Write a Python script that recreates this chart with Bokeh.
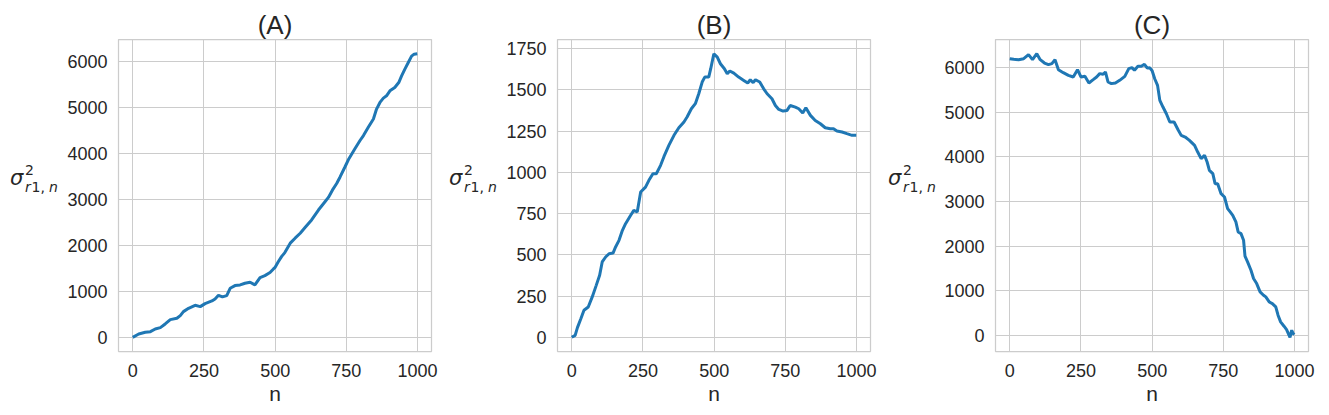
from bokeh.plotting import figure
from bokeh.layouts import row
from bokeh.models import Range1d, FixedTicker, Div
from bokeh.embed import file_html
from bokeh.resources import INLINE

# ---------------- data ----------------
titles = ["(A)", "(B)", "(C)"]

n_a = [0, 21, 44, 62, 79, 97, 114, 132, 155, 167, 178, 196, 219, 237, 254, 278, 289,
       301, 315, 330, 342, 359, 377, 394, 412, 429, 447, 464, 482, 494, 500, 511, 523,
       534, 553, 570, 588, 605, 628, 652, 675, 687, 701, 716, 728, 745, 759, 780, 798,
       810, 827, 845, 856, 868, 880, 891, 903, 920, 934, 944, 955, 967, 979, 988, 999]
s_a = [0, 72, 109, 123, 181, 210, 290, 384, 413, 471, 558, 630, 696, 667, 732, 790, 833,
       913, 877, 906, 1065, 1123, 1138, 1174, 1196, 1138, 1297, 1340, 1406, 1485, 1520, 1640, 1758,
       1840, 2045, 2153, 2261, 2383, 2549, 2764, 2944, 3038, 3196, 3340, 3483, 3699, 3879, 4095, 4274,
       4382, 4562, 4742, 4957, 5101, 5195, 5245, 5353, 5425, 5533, 5676, 5820, 5964, 6108, 6150, 6160]

n_b = [0, 12, 20, 32, 43, 58, 72, 86, 98, 107, 119, 131, 145, 154, 166, 178, 189, 207,
       218, 230, 242, 259, 271, 285, 297, 312, 324, 341, 359, 376, 394, 405, 420, 434,
       446, 458, 467, 481, 488, 499, 511, 522, 536, 546, 555, 569, 586, 604, 618, 627,
       637, 645, 660, 674, 686, 703, 715, 727, 742, 756, 767, 785, 797, 811, 822, 838,
       855, 873, 890, 908, 919, 931, 949, 966, 984, 999]
s_b = [0, 12, 59, 113, 164, 184, 245, 315, 376, 457, 487, 507, 511, 548, 588, 649, 689, 740,
       770, 760, 881, 911, 952, 992, 992, 1043, 1097, 1164, 1225, 1271, 1306, 1336, 1386, 1417,
       1477, 1548, 1578, 1578, 1629, 1720, 1699, 1659, 1629, 1598, 1615, 1602, 1578, 1558, 1542, 1562,
       1544, 1562, 1548, 1507, 1477, 1447, 1406, 1382, 1372, 1376, 1406, 1396, 1386, 1360, 1392, 1346,
       1315, 1295, 1271, 1265, 1265, 1251, 1245, 1235, 1225, 1225]

n_c = [0, 14, 31, 49, 66, 80, 95, 107, 122, 136, 148, 159, 171, 188, 206, 223, 238, 250,
       264, 278, 293, 305, 316, 328, 336, 345, 357, 371, 386, 404, 418, 429, 438, 450,
       462, 473, 483, 491, 500, 509, 519, 527, 538, 550, 562, 577, 591, 602, 616, 631,
       649, 660, 672, 684, 693, 701, 713, 721, 730, 742, 754, 765, 774, 783, 794, 802,
       812, 821, 826, 835, 847, 856, 867, 879, 891, 899, 911, 922, 934, 942, 951, 963,
       972, 984, 990, 995, 999]
s_c = [6201, 6186, 6179, 6201, 6291, 6179, 6313, 6179, 6104, 6067, 6090, 6179, 5955, 5888, 5828, 5791, 5955, 5791,
       5806, 5657, 5731, 5791, 5866, 5851, 5903, 5679, 5642, 5657, 5716, 5806, 5978, 6000, 5940, 6030,
       6030, 6075, 5990, 6000, 5930, 5752, 5603, 5267, 5118, 4968, 4782, 4782, 4610, 4483, 4446, 4372,
       4260, 4110, 3961, 4036, 3887, 3700, 3626, 3402, 3402, 3178, 3103, 2842, 2768, 2693, 2544, 2320,
       2283, 2134, 1776, 1649, 1462, 1276, 1164, 977, 903, 865, 753, 716, 642, 455, 306, 209,
       134, -40, 119, 45, 20]

x_ticks = [0, 250, 500, 750, 1000]
y_ticks_a = [0, 1000, 2000, 3000, 4000, 5000, 6000]
y_ticks_b = [0, 250, 500, 750, 1000, 1250, 1500, 1750]
y_ticks_c = [0, 1000, 2000, 3000, 4000, 5000, 6000]

series = [(n_a, s_a, y_ticks_a), (n_b, s_b, y_ticks_b), (n_c, s_c, y_ticks_c)]

# ---------------- style / layout ----------------
FW, FH = 313, 312
TOP, BOTTOM = 39, 50
FIG_H = TOP + FH + BOTTOM
TXT = "#262626"
GRID = "#cccccc"
LINE = "#1f77b4"
FONT = "Liberation Sans"

div_w = [62, 55, 55]        # width of the y-label column before each panel
label_left = [10, 3, 4]     # left offset of the sigma inside that column
right_border = [15, 14, 14]


def padded(lo, hi, frac=0.05):
    d = (hi - lo) * frac
    return lo - d, hi + d


def ylabel_div(w, left):
    # sigma^2_{r1,n} built from positioned spans (real text)
    def span(txt, x, top, size, style, lh):
        return (f'<span style="position:absolute;left:{x}px;top:{top}px;'
                f'font-size:{size}px;font-style:{style};line-height:{lh};'
                f'white-space:nowrap;">{txt}</span>')
    html = ('<div style="position:relative;width:%dpx;height:%dpx;'
            'font-family:\'DejaVu Sans\';color:%s;">' % (w, FIG_H, TXT))
    html += span("σ", left, 167.5, 21, "italic", 1)
    html += span("2", left + 15, 164.9, 14, "normal", 0.8)
    html += span("r", left + 15, 182.2, 14, "italic", 0.8)
    html += span("1,", left + 21.5, 182.2, 14, "normal", 0.8)
    html += span("n", left + 39, 182.2, 14, "italic", 0.8)
    html += "</div>"
    return Div(text=html, width=w, height=FIG_H, margin=0)


items = []
for i, (xs, ys, yt) in enumerate(series):
    x0, x1 = padded(min(xs), max(xs))
    y0, y1 = padded(min(ys), max(ys))
    p = figure(frame_width=FW, frame_height=FH,
               x_range=Range1d(x0, x1), y_range=Range1d(y0, y1),
               output_backend="svg", toolbar_location=None,
               min_border_left=56, min_border_right=right_border[i],
               min_border_top=TOP, min_border_bottom=BOTTOM, margin=0)
    p.title.text = titles[i]
    p.title.align = "center"
    p.title.text_font = FONT
    p.title.text_font_size = "26px"
    p.title.text_font_style = "normal"
    p.title.text_color = TXT
    p.title.standoff = 0

    p.background_fill_color = "white"
    p.border_fill_color = "white"
    p.outline_line_color = GRID
    p.outline_line_width = 1.25

    p.xaxis.ticker = FixedTicker(ticks=x_ticks)
    p.yaxis.ticker = FixedTicker(ticks=yt)
    for ax in (p.xaxis, p.yaxis):
        ax.axis_line_color = None
        ax.major_tick_line_color = None
        ax.minor_tick_line_color = None
        ax.major_label_text_font = FONT
        ax.major_label_text_font_size = "18px"
        ax.major_label_text_color = TXT
    p.xaxis.major_label_standoff = 6
    p.yaxis.major_label_standoff = 5
    p.xaxis.axis_label = "n"
    p.xaxis.axis_label_text_font = FONT
    p.xaxis.axis_label_text_font_size = "21px"
    p.xaxis.axis_label_text_font_style = "normal"
    p.xaxis.axis_label_text_color = TXT
    p.xaxis.axis_label_standoff = 2

    p.xgrid.grid_line_color = GRID
    p.ygrid.grid_line_color = GRID
    p.xgrid.grid_line_width = 1
    p.ygrid.grid_line_width = 1

    p.line(xs, ys, line_color=LINE, line_width=3)

    items.append(ylabel_div(div_w[i], label_left[i]))
    items.append(p)

layout = row(*items, spacing=0)
open("out.html", "w").write(file_html(layout, INLINE))
